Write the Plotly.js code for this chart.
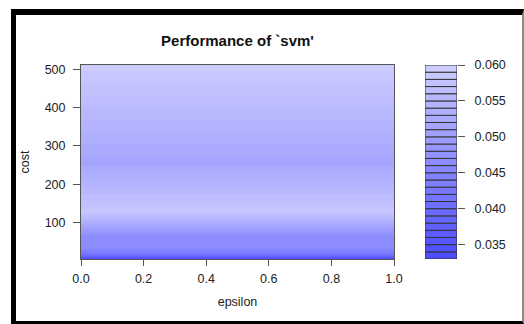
<!DOCTYPE html>
<html>
<head>
<meta charset="utf-8">
<script src="https://cdn.plot.ly/plotly-3.0.1.min.js"></script>
<style>
  html, body { margin: 0; padding: 0; background: #fff; overflow: hidden; }
  #chart { position: absolute; left: 0; top: 0; width: 524px; height: 324px; }
  #frame { position: absolute; left: 11px; top: 9px; width: 513px; height: 315px;
           box-sizing: border-box; border-left: 5px solid #000; border-top: 6px solid #000;
           border-bottom: 3px solid #000; border-right: 2px solid #8a8a8a; pointer-events: none; }
</style>
</head>
<body>
<div id="chart"></div>
<div id="frame"></div>
<script>
// ---- data ----
const epsilon = [0.0, 0.1, 0.2, 0.3, 0.4, 0.5, 0.6, 0.7, 0.8, 0.9, 1.0];
const cost = [4, 8, 16, 32, 64, 128, 256, 512];
// estimated cross-validation error for each cost (no visible change along epsilon)
const perfByCost = [0.0335, 0.0365, 0.0415, 0.0462, 0.0468, 0.0585, 0.0515, 0.0595];
const levels = [0.033, 0.034, 0.035, 0.036, 0.037, 0.038, 0.039, 0.040, 0.041, 0.042,
                0.043, 0.044, 0.045, 0.046, 0.047, 0.048, 0.049, 0.050, 0.051, 0.052,
                0.053, 0.054, 0.055, 0.056, 0.057, 0.058, 0.059, 0.060];
const xTicks = [0.0, 0.2, 0.4, 0.6, 0.8, 1.0];
const yTicks = [100, 200, 300, 400, 500];
const keyTicks = [0.035, 0.040, 0.045, 0.050, 0.055, 0.060];

// ---- palette: R hsv_palette (h = 2/3, s from 0.7 to 0.2, v = 1) ----
const nBands = levels.length - 1;
const bandColors = [];
for (let k = 0; k < nBands; k++) {
  const s = 0.7 - k * (0.5 / (nBands - 1));
  const v = Math.round(255 * (1 - s));
  bandColors.push('rgb(' + v + ',' + v + ',255)');
}
// contour fill colours are sampled at band midpoints -> positions (k+1)/(n+1)
const colorscale = [[0, bandColors[0]]];
for (let k = 0; k < nBands; k++) colorscale.push([(k + 1) / (nBands + 1), bandColors[k]]);
colorscale.push([1, bandColors[nBands - 1]]);

const z = cost.map((c, i) => epsilon.map(() => perfByCost[i]));

const W = 524, H = 324;
const px = v => v / W, py = v => 1 - v / H;
const font = { family: 'Liberation Sans, Arial, sans-serif', size: 12.5, color: '#222' };

const contour = {
  type: 'contour', x: epsilon, y: cost, z: z,
  xaxis: 'x', yaxis: 'y',
  autocontour: false,
  contours: { start: levels[0], end: levels[levels.length - 1], size: 0.001,
              coloring: 'fill', showlines: false },
  line: { width: 0, smoothing: 0 },
  colorscale: colorscale, showscale: false, hoverinfo: 'skip'
};

const key = {
  type: 'bar', xaxis: 'x2', yaxis: 'y2',
  x: levels.slice(0, -1).map(() => 0.5),
  base: levels.slice(0, -1),
  y: levels.slice(1).map((l, k) => l - levels[k]),
  width: 1,
  marker: { color: bandColors, line: { color: '#333', width: 1 } },
  cliponaxis: false, hoverinfo: 'skip', showlegend: false
};

const layout = {
  width: W, height: H,
  margin: { l: 0, r: 0, t: 0, b: 0 },
  paper_bgcolor: '#fff', plot_bgcolor: '#fff',
  showlegend: false, hovermode: false, barmode: 'overlay',
  font: font,
  title: { text: "Performance of `svm'", x: px(237.5), xanchor: 'center', xref: 'paper',
           y: py(41), yanchor: 'middle', yref: 'paper',
           font: { family: 'Liberation Sans, Arial, sans-serif', size: 15, weight: 'bold', color: '#111' } },
  xaxis: { domain: [px(81), px(394)], range: [0, 1], tickvals: xTicks, tickformat: '.1f',
           ticks: 'outside', ticklen: 6, tickcolor: '#555', ticklabelstandoff: 2,
           showline: true, mirror: true,
           linecolor: '#555', linewidth: 1, showgrid: false, zeroline: false,
           title: { text: 'epsilon', font: font, standoff: 12 }, automargin: false },
  yaxis: { domain: [py(259), py(65)], range: [4, 512], tickvals: yTicks,
           ticks: 'outside', ticklen: 7, tickcolor: '#555', ticklabelstandoff: 5,
           showline: true, mirror: true,
           linecolor: '#555', linewidth: 1, showgrid: false, zeroline: false,
           title: { text: 'cost', font: font, standoff: 12 }, automargin: false },
  xaxis2: { domain: [px(425), px(457)], range: [0, 1], visible: false, anchor: 'y2' },
  yaxis2: { domain: [py(259), py(65)], range: [levels[0], levels[levels.length - 1]],
            anchor: 'x2', side: 'right', tickvals: keyTicks, tickformat: '.3f',
            ticks: 'outside', ticklen: 7, tickcolor: '#555', ticklabelstandoff: 7,
            showline: false, showgrid: false, zeroline: false, automargin: false }
};

Plotly.newPlot('chart', [contour, key], layout, { staticPlot: true, displayModeBar: false });
</script>
</body>
</html>
